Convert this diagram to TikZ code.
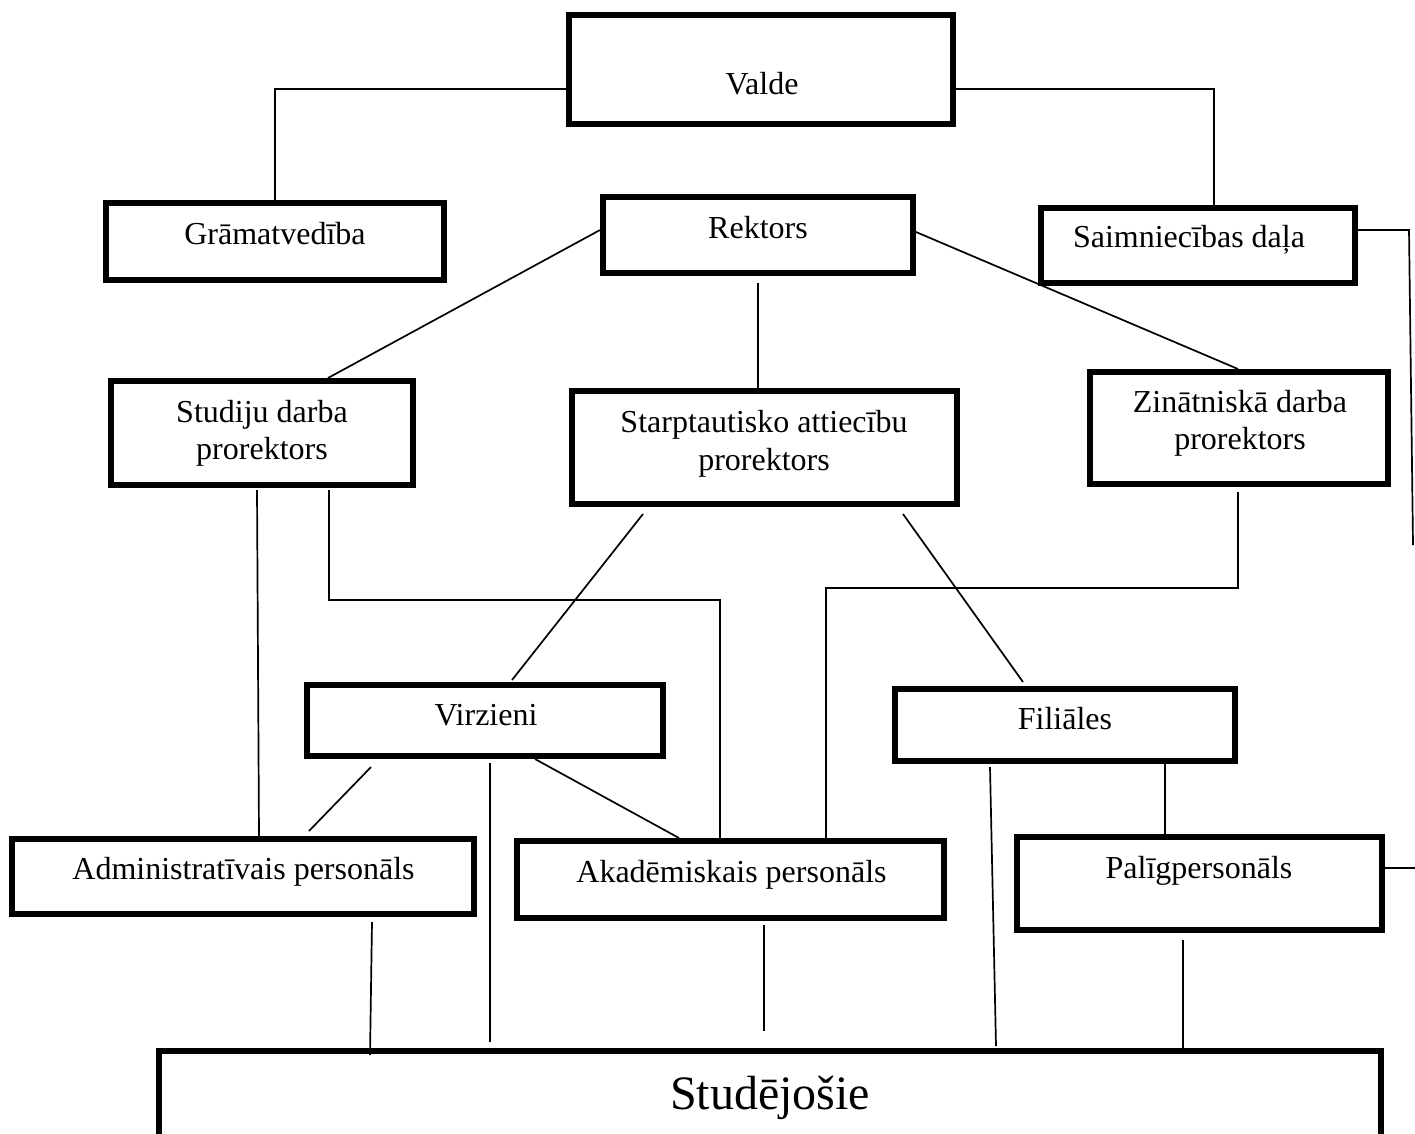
\documentclass[tikz,border=0pt]{standalone}
\usepackage{fontspec}
\setmainfont{Liberation Serif}
\usetikzlibrary{calc}
\begin{document}
\begin{tikzpicture}[x=1pt,y=-1pt,
  box/.style={draw,line width=6pt,rectangle,inner sep=0pt},
  lbl/.style={anchor=base,inner sep=0pt,font=\fontsize{32}{38}\selectfont,align=center},
  conn/.style={line width=1.7pt}]
\clip (0,0) rectangle (1415,1133);
\fill[white] (0,0) rectangle (1415,1133);
% boxes
\node[box,minimum width=384pt,minimum height=109pt] (valde) at (761,69.5) {};
\node[box,minimum width=338pt,minimum height=77pt] (gram) at (275,241.5) {};
\node[box,minimum width=310pt,minimum height=76pt] (rekt) at (758,235) {};
\node[box,minimum width=314pt,minimum height=75pt] (saim) at (1198,245.5) {};
\node[box,minimum width=302pt,minimum height=104pt] (stud) at (262,433) {};
\node[box,minimum width=385pt,minimum height=113pt] (starp) at (764.5,447.5) {};
\node[box,minimum width=298pt,minimum height=112pt] (zin) at (1239,428) {};
\node[box,minimum width=356pt,minimum height=71pt] (virz) at (485,720.5) {};
\node[box,minimum width=340pt,minimum height=72pt] (fil) at (1065,725) {};
\node[box,minimum width=462pt,minimum height=75pt] (admin) at (243,876.5) {};
\node[box,minimum width=427pt,minimum height=77pt] (akad) at (730.5,879.5) {};
\node[box,minimum width=365pt,minimum height=93pt] (palig) at (1199.5,883.5) {};
\node[box,minimum width=1222pt,minimum height=127pt] (studj) at (770,1114) {};
% labels
\node[lbl] (valdeT) at (762,94) {Valde};
\node[lbl] (gramT) at (275,244) {Grāmatvedība};
\node[lbl] (rektT) at (758,238) {Rektors};
\node[lbl] (saimT) at (1189,247) {Saimniecības daļa};
\node[lbl] (studT1) at (262,422) {Studiju darba};
\node[lbl] (studT2) at (262,459) {prorektors};
\node[lbl] (starpT1) at (764,432) {Starptautisko attiecību};
\node[lbl] (starpT2) at (764,470) {prorektors};
\node[lbl] (zinT1) at (1240,412) {Zinātniskā darba};
\node[lbl] (zinT2) at (1240,449) {prorektors};
\node[lbl] (virzT) at (486,725) {Virzieni};
\node[lbl] (filT) at (1065,729) {Filiāles};
\node[lbl] (adminT) at (243.5,879) {Administratīvais personāls};
\node[lbl] (akadT) at (731.5,882) {Akadēmiskais personāls};
\node[lbl] (paligT) at (1199,878) {Palīgpersonāls};
\node[lbl,font=\fontsize{48}{56}\selectfont] (studjT) at (770,1109) {Studējošie};
% free-end coordinates
\coordinate (saimCorner) at (1409,230);
\coordinate (saimEnd) at (1413,545);
\coordinate (paligEnd) at (1416,868);
% connectors
\draw[conn] (valde.west |- 0,89) -| (gram.north);
\draw[conn] (valde.east |- 0,89) -| (saim.north -| 1214,0);
\draw[conn] (rekt.west |- 0,230) -- (stud.north -| 328,0);
\draw[conn] (758,283) -- (starp.north -| 758,0);
\draw[conn] (rekt.east |- 0,232) -- (zin.north -| 1238,0);
\draw[conn] (saim.east |- 0,230) -- (saimCorner) -- (saimEnd);
\draw[conn] (palig.east |- 0,868) -- (paligEnd);
\draw[conn] (257,490) -- (admin.north -| 259,0);
\draw[conn] (329,490) -- (329,600) -- (720,600) -- (akad.north -| 720,0);
\draw[conn] (643,514) -- (512,680);
\draw[conn] (903,514) -- (1023,682);
\draw[conn] (1238,492) -- (1238,588) -- (826,588) -- (akad.north -| 826,0);
\draw[conn] (371,767) -- (309,831);
\draw[conn] (490,763) -- (490,1042);
\draw[conn] (virz.south -| 535,0) -- (akad.north -| 679,0);
\draw[conn] (990,767) -- (996,1046);
\draw[conn] (fil.south -| 1165,0) -- (palig.north -| 1165,0);
\draw[conn] (372,922) -- (370,1055);
\draw[conn] (764,925) -- (764,1031);
\draw[conn] (1183,940) -- (studj.north -| 1183,0);
\end{tikzpicture}
\end{document}
